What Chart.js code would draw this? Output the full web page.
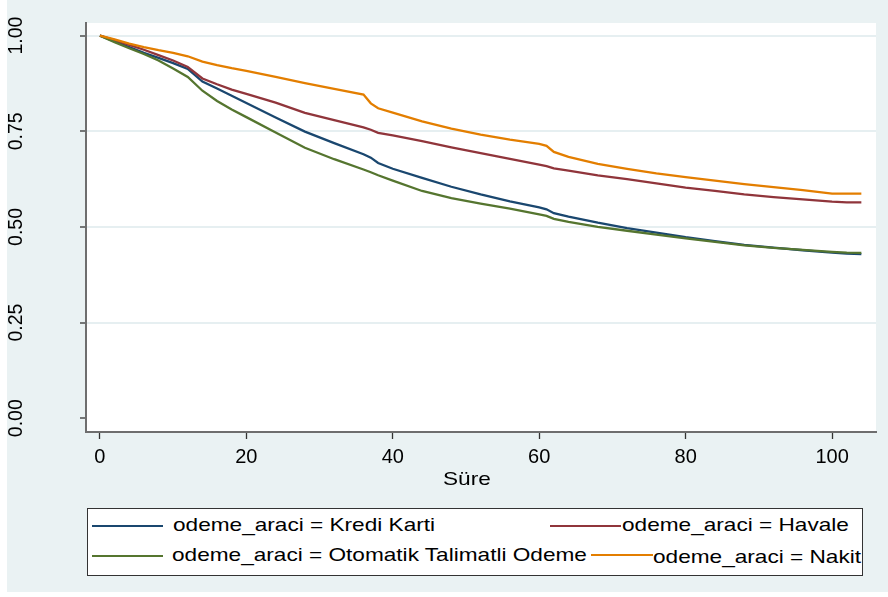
<!DOCTYPE html>
<html>
<head>
<meta charset="utf-8">
<script src="https://cdn.jsdelivr.net/npm/chart.js@4.4.0/dist/chart.umd.min.js"></script>
<style>
  body { margin: 0; background: #fff; }
  #wrap { position: relative; width: 888px; height: 597px; font-family: "Liberation Sans", Arial, sans-serif; }
  #legend { position: absolute; left: 87px; top: 508px; width: 776px; height: 68px; box-sizing: border-box; border: 1px solid #333; background: #fff; }
  .key { position: absolute; height: 2px; }
  .lab { position: absolute; font-size: 19px; line-height: 19px; white-space: nowrap; color: #000;
         transform: scaleX(1.19); transform-origin: 0 0; }
</style>
</head>
<body>
<div id="wrap">
  <canvas id="km" width="888" height="597"></canvas>
  <div id="legend"></div>
</div>
<script>
// === Data ===
const times = [0, 2, 4, 6, 8, 10, 12, 14, 16, 18, 20, 24, 28, 32, 36, 37, 38, 40, 44, 48, 52, 56, 60, 61, 62, 64, 68, 72, 76, 80, 84, 88, 92, 96, 100, 102, 104];

const krediKarti = [1.000, 0.985, 0.970, 0.955, 0.942, 0.928, 0.913, 0.880, 0.862, 0.843, 0.824, 0.786, 0.749, 0.719, 0.690, 0.681, 0.667, 0.652, 0.628, 0.605, 0.585, 0.567, 0.551, 0.546, 0.536, 0.527, 0.511, 0.497, 0.485, 0.473, 0.463, 0.453, 0.446, 0.439, 0.433, 0.430, 0.429];
const havale = [1.000, 0.988, 0.976, 0.963, 0.949, 0.935, 0.918, 0.888, 0.873, 0.859, 0.848, 0.825, 0.798, 0.779, 0.760, 0.754, 0.746, 0.739, 0.724, 0.708, 0.693, 0.678, 0.663, 0.659, 0.653, 0.647, 0.635, 0.625, 0.614, 0.603, 0.594, 0.585, 0.578, 0.572, 0.566, 0.564, 0.564];
const otomatik = [1.000, 0.983, 0.967, 0.952, 0.935, 0.914, 0.892, 0.856, 0.829, 0.807, 0.787, 0.747, 0.707, 0.677, 0.650, 0.643, 0.635, 0.621, 0.594, 0.575, 0.561, 0.548, 0.533, 0.529, 0.521, 0.513, 0.500, 0.490, 0.480, 0.470, 0.461, 0.452, 0.445, 0.440, 0.435, 0.433, 0.432];
const nakit = [1.000, 0.990, 0.979, 0.970, 0.962, 0.955, 0.946, 0.932, 0.923, 0.915, 0.908, 0.892, 0.876, 0.861, 0.846, 0.823, 0.810, 0.799, 0.776, 0.757, 0.741, 0.728, 0.717, 0.712, 0.696, 0.683, 0.665, 0.652, 0.640, 0.630, 0.621, 0.612, 0.604, 0.596, 0.587, 0.587, 0.587];

const seriesNames = ["odeme_araci = Kredi Karti", "odeme_araci = Havale", "odeme_araci = Otomatik Talimatli Odeme", "odeme_araci = Nakit"];
const seriesColors = ["#1a476f", "#90353b", "#55752f", "#e37e00"];
const xTicks = [0, 20, 40, 60, 80, 100];
const yTicks = [0, 0.25, 0.5, 0.75, 1];
const xTitle = "Süre";

const seriesValues = [krediKarti, havale, otomatik, nakit];

// === Background: grey graph region, white plot region ===
const backdrop = {
  id: "backdrop",
  beforeDraw(chart) {
    const { ctx, chartArea: a } = chart;
    ctx.save();
    ctx.fillStyle = "#fff";
    ctx.fillRect(0, 0, chart.width, chart.height);
    ctx.fillStyle = "#eaf2f3";
    ctx.fillRect(7, 0, chart.width - 7, 592);
    ctx.fillStyle = "#fff";
    ctx.fillRect(a.left, a.top, a.right - a.left, a.bottom - a.top);
    ctx.restore();
  }
};

// === Draw Chart ===
const ctx = document.getElementById("km").getContext("2d");
new Chart(ctx, {
  type: "line",
  data: {
    datasets: seriesValues.map((vals, i) => ({
      label: seriesNames[i],
      data: times.map((t, j) => ({ x: t, y: vals[j] })),
      borderColor: seriesColors[i],
      borderWidth: 2.3,
      pointRadius: 0,
      tension: 0,
      fill: false,
      order: seriesValues.length - i
    }))
  },
  options: {
    responsive: false,
    animation: false,
    devicePixelRatio: 1,
    layout: { padding: { left: 0, right: 12, top: 23, bottom: 125 } },
    plugins: {
      legend: { display: false },
      tooltip: { enabled: false }
    },
    scales: {
      x: {
        type: "linear",
        min: -1.9,
        max: 106,
        afterBuildTicks: s => { s.ticks = xTicks.map(v => ({ value: v })); },
        afterFit: s => { s.height = 40; s.paddingLeft = 0; s.paddingRight = 0; },
        grid: { drawOnChartArea: false, tickLength: 7, tickColor: "#333", tickWidth: 1.3 },
        border: { display: true, color: "#6e6e6e", width: 2 },
        ticks: {
          autoSkip: false,
          maxRotation: 0,
          padding: 6,
          color: "#000",
          font: { family: "'Liberation Sans', Arial, sans-serif", size: 20 }
        }
      },
      y: {
        min: -0.036,
        max: 1.033,
        afterBuildTicks: s => { s.ticks = yTicks.map(v => ({ value: v })); },
        afterFit: s => { s.width = 86; s.paddingTop = 0; s.paddingBottom = 0; },
        grid: {
          color: c => (c.tick && c.tick.value === 0 ? "rgba(0,0,0,0)" : "#e6eff1"),
          lineWidth: 2,
          tickLength: 6,
          tickColor: "#333",
          tickWidth: 1.3
        },
        border: { display: true, color: "#6e6e6e", width: 2 },
        ticks: {
          autoSkip: false,
          minRotation: 90,
          maxRotation: 90,
          crossAlign: "center",
          padding: 44,
          color: "#000",
          font: { family: "'Liberation Sans', Arial, sans-serif", size: 19.5 },
          callback: v => v.toFixed(2)
        }
      }
    }
  },
  plugins: [backdrop]
});

// === Legend + axis title as HTML text ===
const wrap = document.getElementById("wrap");
const keyPos = [
  { x: 92, w: 71, y: 525, tx: 173, ty: 514.5 },
  { x: 550, w: 71, y: 525, tx: 622, ty: 514.5 },
  { x: 92, w: 71, y: 555, tx: 172, ty: 544.5 },
  { x: 591, w: 62, y: 554, tx: 653, ty: 547 }
];
seriesNames.forEach((name, i) => {
  const p = keyPos[i];
  const key = document.createElement("div");
  key.className = "key";
  key.style.cssText = `left:${p.x}px;top:${p.y}px;width:${p.w}px;background:${seriesColors[i]}`;
  wrap.appendChild(key);
  const lab = document.createElement("div");
  lab.className = "lab";
  lab.style.left = p.tx + "px";
  lab.style.top = p.ty + "px";
  lab.textContent = name;
  wrap.appendChild(lab);
});

const title = document.createElement("div");
title.className = "lab";
title.style.left = "443px";
title.style.top = "469px";
title.textContent = xTitle;
wrap.appendChild(title);
</script>
</body>
</html>
